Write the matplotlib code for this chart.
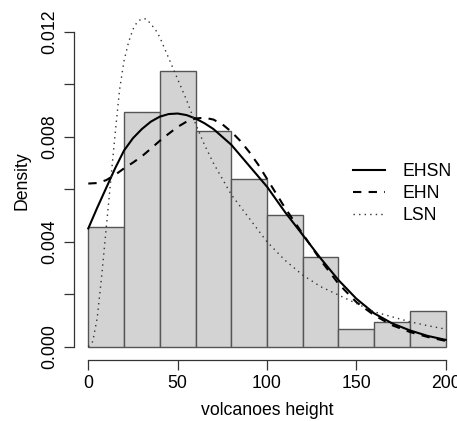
import matplotlib
matplotlib.use('Agg')
import matplotlib.pyplot as plt

plt.rcParams['font.family'] = ['Liberation Sans', 'DejaVu Sans']

# histogram (density scale), bins of width 20
bin_left = [0, 20, 40, 60, 80, 100, 120, 140, 160, 180]
hist_density = [0.00457, 0.00893, 0.0105, 0.00823, 0.00639,
                0.00502, 0.00343, 0.00067, 0.00093, 0.00137]

# fitted densities
x_fit = [0, 5, 10, 15, 20, 25, 30, 35, 40, 45, 50, 55, 60, 65, 70, 75, 80,
         85, 90, 95, 100, 110, 120, 130, 140, 150, 160, 170, 180, 190, 200]
ehsn = [0.00451, 0.00530, 0.00605, 0.00680, 0.00748, 0.00795, 0.00830,
        0.00858, 0.00877, 0.00887, 0.00889, 0.00883, 0.00870, 0.00852,
        0.00830, 0.00800, 0.00770, 0.00730, 0.00690, 0.00650, 0.00610,
        0.00514, 0.00426, 0.00337, 0.00254, 0.00183, 0.00127, 0.00089,
        0.00062, 0.00041, 0.00026]
ehn = [0.00622, 0.00624, 0.00635, 0.00655, 0.00680, 0.00702, 0.00726,
       0.00755, 0.00785, 0.00812, 0.00838, 0.00858, 0.00870, 0.00873,
       0.00866, 0.00848, 0.00820, 0.00785, 0.00743, 0.00695, 0.00640,
       0.00530, 0.00430, 0.00330, 0.00240, 0.00170, 0.00120, 0.00082,
       0.00056, 0.00037, 0.00022]

x_lsn = [0, 2.5, 5, 7.5, 10, 12.5, 15, 17.5, 20, 22.5, 25, 27.5, 30, 32.5,
         35, 37.5, 40, 45, 50, 55, 60, 65, 70, 75, 80, 90, 100, 110, 120,
         130, 140, 150, 160, 170, 180, 190, 200]
lsn = [0.0, 0.0002, 0.0011, 0.0027, 0.0045, 0.0063, 0.0081, 0.0098,
       0.0109, 0.0116, 0.0121, 0.0124, 0.0125, 0.0125, 0.0123, 0.0121,
       0.0118, 0.0110, 0.0102, 0.0094, 0.0085, 0.0077, 0.0070, 0.0064,
       0.0058, 0.0049, 0.0040, 0.0033, 0.00273, 0.00229, 0.00197,
       0.00165, 0.00133, 0.00114, 0.00095, 0.0008, 0.00067]

W, H = 457, 421
fs = 12.7
fig = plt.figure(figsize=(W / 100, H / 100), dpi=100)
ax = fig.add_axes([74 / W, 61 / H, 386 / W, 359 / H])

ax.bar(bin_left, hist_density, width=20, align='edge',
       facecolor='#d3d3d3', edgecolor='#555555', linewidth=1)

ax.plot(x_fit, ehsn, color='black', lw=1.5, ls='-', label='EHSN')
ax.plot(x_fit, ehn, color='black', lw=1.5, ls=(0, (4, 3.5)), label='EHN')
ax.plot(x_lsn, lsn, color='#333333', lw=1.0, ls=(0, (1, 3)), label='LSN')

ax.set_xlim(-8, 208)
ax.set_ylim(-0.000507, 0.01318)

for s in ['top', 'right']:
    ax.spines[s].set_visible(False)
ax.spines['left'].set_bounds(0, 0.012)
ax.spines['bottom'].set_bounds(0, 200)
for s in ['left', 'bottom']:
    ax.spines[s].set_linewidth(0.9)
    ax.spines[s].set_color('#333333')

ax.set_xticks([0, 50, 100, 150, 200])
ax.set_yticks([0, 0.002, 0.004, 0.006, 0.008, 0.010, 0.012])
ax.set_yticklabels(['0.000', '', '0.004', '', '0.008', '', '0.012'],
                   rotation=90, va='center')
ax.tick_params(direction='out', length=7, width=0.9, color='#333333',
               labelsize=fs, pad=4)

ax.set_xlabel('volcanoes height', fontsize=fs, labelpad=7)
ax.set_ylabel('Density', fontsize=fs, labelpad=8)

ax.legend(loc='upper left', bbox_to_anchor=(353 / W, 1 - 163 / H),
          bbox_transform=fig.transFigure, frameon=False, fontsize=fs,
          handlelength=1.8, handletextpad=1.0, labelspacing=0.28,
          borderpad=0, borderaxespad=0)

fig.savefig('out.png', dpi=100)
